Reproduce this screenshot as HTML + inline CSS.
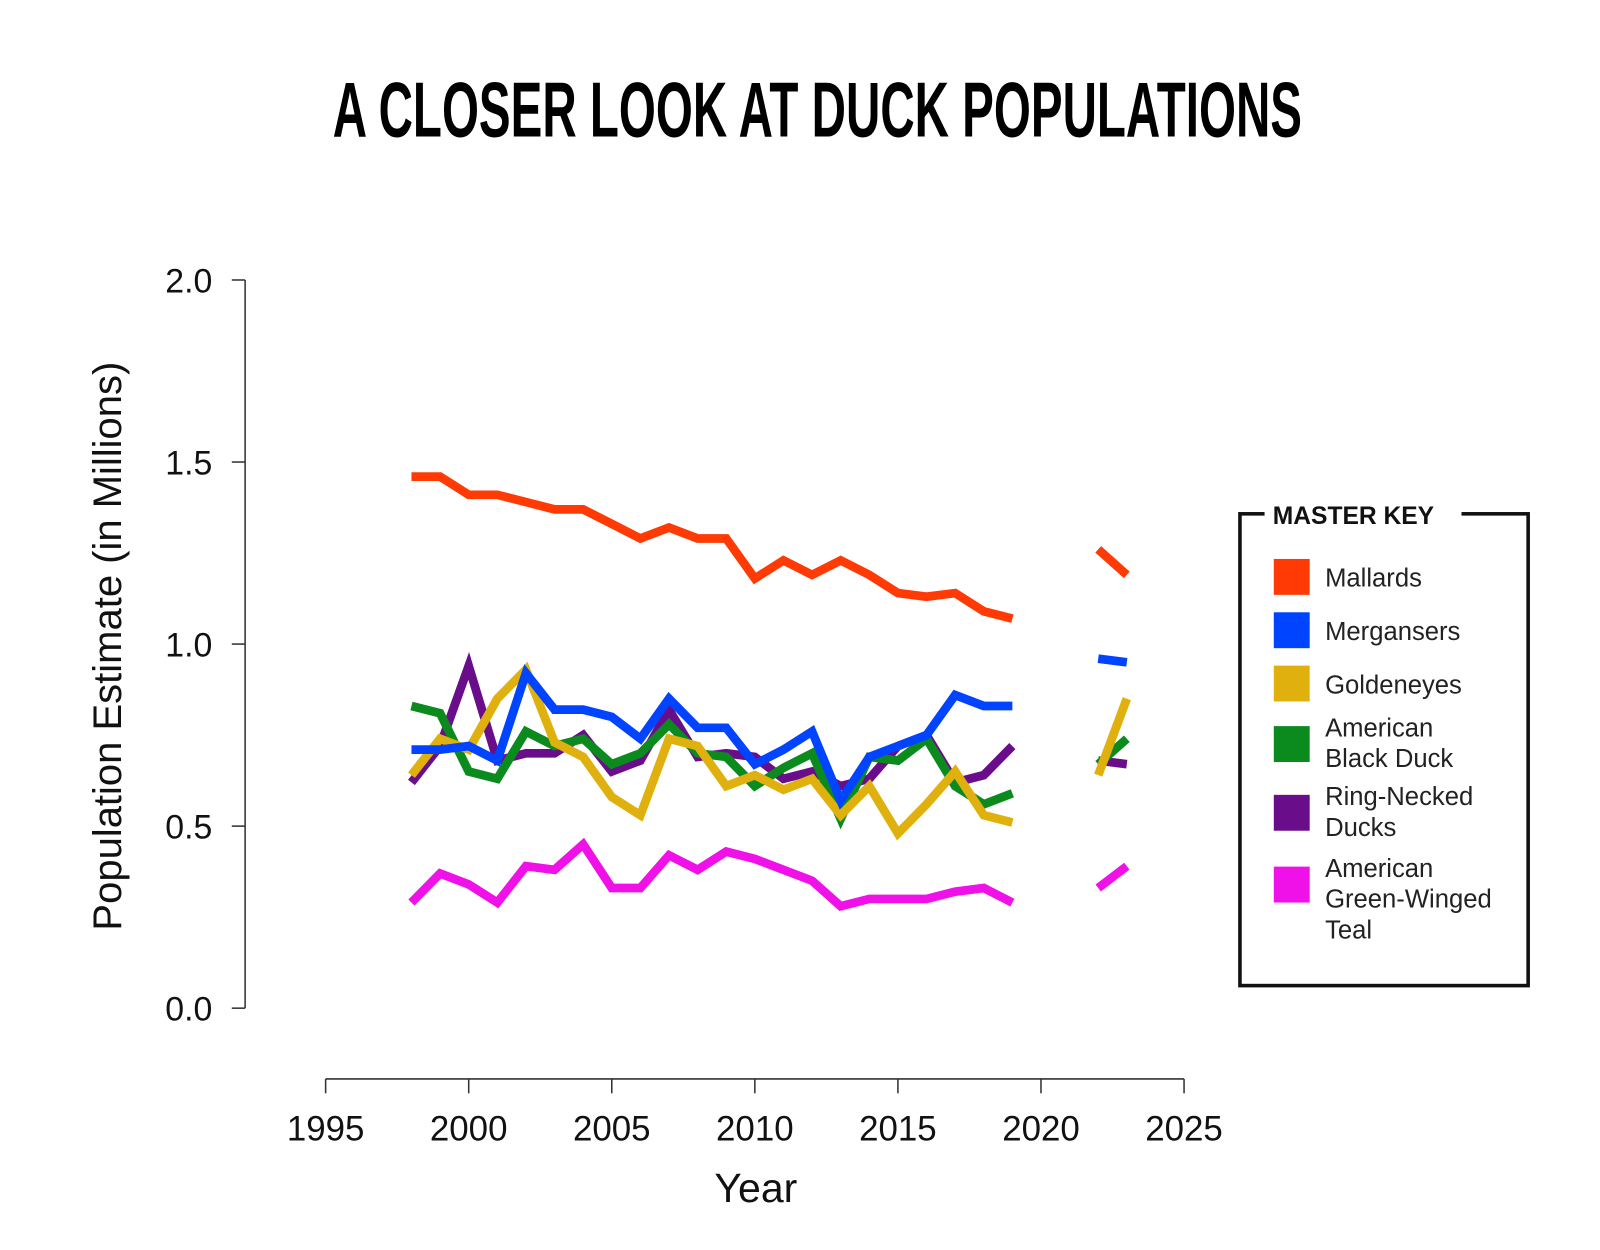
<!DOCTYPE html>
<html><head><meta charset="utf-8"><style>
html,body{margin:0;padding:0;background:#fff;width:1600px;height:1250px;overflow:hidden}
svg{display:block;font-family:"Liberation Sans",sans-serif}
</style></head><body>
<svg id="chart" width="1600" height="1250" viewBox="0 0 1600 1250">
<g transform="scale(1.0256)">
<text x="797" y="133" text-anchor="middle" font-family="'Liberation Sans Narrow','Liberation Sans',sans-serif" font-weight="bold" font-size="76" textLength="945" lengthAdjust="spacingAndGlyphs">A CLOSER LOOK AT DUCK POPULATIONS</text>
<g id="axes"></g>
<g id="series"></g>
<text x="118" y="630" transform="rotate(-90 118 630)" text-anchor="middle" font-size="39" fill="#111">Population Estimate (in Millions)</text>
<text x="737" y="1172" text-anchor="middle" font-size="40" fill="#111">Year</text>
<g transform="translate(-7,0)">
<rect x="1216" y="501" width="281" height="460" fill="none" stroke="#111" stroke-width="3.5"/>
<rect x="1240" y="488" width="192" height="28" fill="#fff"/>
<text x="1248" y="511" font-size="24" font-weight="bold" fill="#111">MASTER KEY</text>
<g id="legend-items"></g>
</g>
</g>
</svg>
<script>
const years = [1998,1999,2000,2001,2002,2003,2004,2005,2006,2007,2008,2009,2010,2011,2012,2013,2014,2015,2016,2017,2018,2019];
const recentYears = [2022,2023];
const mallards = [1.46,1.46,1.41,1.41,1.39,1.37,1.37,1.33,1.29,1.32,1.29,1.29,1.18,1.23,1.19,1.23,1.19,1.14,1.13,1.14,1.09,1.07];
const mallardsRecent = [1.26,1.19];
const mergansers = [0.71,0.71,0.72,0.68,0.92,0.82,0.82,0.80,0.74,0.85,0.77,0.77,0.67,0.71,0.76,0.57,0.69,0.72,0.75,0.86,0.83,0.83];
const mergansersRecent = [0.96,0.95];
const goldeneyes = [0.64,0.74,0.71,0.85,0.93,0.73,0.69,0.58,0.53,0.74,0.72,0.61,0.64,0.60,0.63,0.53,0.61,0.48,0.56,0.65,0.53,0.51];
const goldeneyesRecent = [0.64,0.85];
const blackDuck = [0.83,0.81,0.65,0.63,0.76,0.72,0.74,0.67,0.70,0.78,0.70,0.69,0.61,0.66,0.70,0.52,0.69,0.68,0.74,0.61,0.56,0.59];
const blackDuckRecent = [0.67,0.74];
const ringNecked = [0.62,0.72,0.94,0.68,0.70,0.70,0.75,0.65,0.68,0.82,0.69,0.70,0.69,0.63,0.65,0.61,0.63,0.72,0.75,0.62,0.64,0.72];
const ringNeckedRecent = [0.68,0.67];
const greenWinged = [0.29,0.37,0.34,0.29,0.39,0.38,0.45,0.33,0.33,0.42,0.38,0.43,0.41,0.38,0.35,0.28,0.30,0.30,0.30,0.32,0.33,0.29];
const greenWingedRecent = [0.33,0.39];
const yTicks = [0.0,0.5,1.0,1.5,2.0];
const yTickLabels = ["0.0","0.5","1.0","1.5","2.0"];
const xTicks = [1995,2000,2005,2010,2015,2020,2025];
const seriesNames = ["Mallards","Mergansers","Goldeneyes","American Black Duck","Ring-Necked Ducks","American Green-Winged Teal"];

const NS="http://www.w3.org/2000/svg";
const xs = yr => 457 + (yr-2000)*27.9;
const ys = v => 983 - v*355;
function mk(tag, attrs, parent){const e=document.createElementNS(NS,tag);for(const k in attrs)e.setAttribute(k,attrs[k]);parent.appendChild(e);return e;}
const axes=document.getElementById('axes');
let yl=mk('line',{x1:239,x2:239,y1:ys(2),y2:ys(0),stroke:'#333','stroke-width':1.5},axes);


yTicks.forEach((t,i)=>{
  let tk=mk('line',{x1:226,x2:239,y1:ys(t),y2:ys(t),stroke:'#333','stroke-width':1.5},axes);
  
  
  let tx=mk('text',{x:207,y:ys(t)+12,'text-anchor':'end','font-size':33,fill:'#111'},axes);
  tx.textContent=yTickLabels[i];
  
  
});
let xl=mk('line',{x1:xs(1995),x2:xs(2025),y1:1052,y2:1052,stroke:'#333','stroke-width':1.5},axes);


xTicks.forEach(t=>{
  let tk=mk('line',{x1:xs(t),x2:xs(t),y1:1052,y2:1066,stroke:'#333','stroke-width':1.5},axes);
  
  
  let tx=mk('text',{x:xs(t),y:1112,'text-anchor':'middle','font-size':34,fill:'#111'},axes);
  tx.textContent=String(t);
  
  
});
const sg=document.getElementById('series');
const defs=[
 ['ring-necked-ducks',ringNecked,ringNeckedRecent,'#6a0d8a'],
 ['american-black-duck',blackDuck,blackDuckRecent,'#0b8a1e'],
 ['goldeneyes',goldeneyes,goldeneyesRecent,'#e0b10e'],
 ['mergansers',mergansers,mergansersRecent,'#0044ff'],
 ['green-winged-teal',greenWinged,greenWingedRecent,'#f010e8'],
 ['mallards',mallards,mallardsRecent,'#ff3a05']];
defs.forEach(([n,a,b,c])=>{
  let p=mk('polyline',{points:a.map((v,i)=>xs(years[i])+','+ys(v)).join(' '),fill:'none',stroke:c,'stroke-width':8.5,'stroke-linejoin':'miter','stroke-linecap':'butt'},sg);
  
  
  let q=mk('polyline',{points:b.map((v,i)=>xs(recentYears[i])+','+ys(v)).join(' '),fill:'none',stroke:c,'stroke-width':8.5},sg);
  
  
});
const lg=document.getElementById('legend-items');
const legColors=['#ff3a05','#0044ff','#e0b10e','#0b8a1e','#6a0d8a','#f010e8'];
const legY=[545,597,649,708,775,845];
const legLines=[["Mallards"],["Mergansers"],["Goldeneyes"],["American","Black Duck"],["Ring-Necked","Ducks"],["American","Green-Winged","Teal"]];
legLines.forEach((lines,i)=>{
  let r=mk('rect',{x:1249,y:legY[i],width:35,height:35,fill:legColors[i]},lg);
  
  
  let t=mk('text',{x:1299,'font-size':25,fill:'#222'},lg);
  
  
  const top = lines.length===1 ? legY[i]+27 : legY[i]+10;
  lines.forEach((s,j)=>{let ts=mk('tspan',{x:1299,y:top+j*30},t);ts.textContent=s;});
});
</script>
</body></html>
